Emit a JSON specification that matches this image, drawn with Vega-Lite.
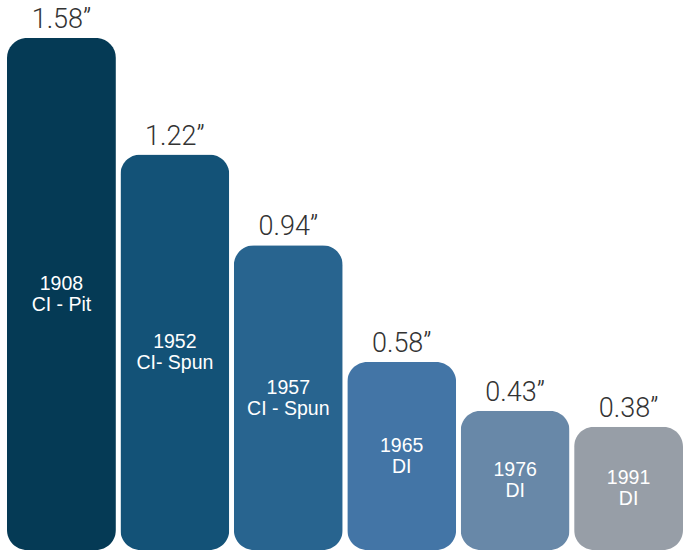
{
  "$schema": "https://vega.github.io/schema/vega-lite/v6.json",
  "width": 676,
  "height": 550,
  "autosize": {"type": "none"},
  "padding": {"left": 7, "top": 0, "right": 1, "bottom": 2},
  "background": "white",
  "config": {"view": {"stroke": null}},
  "data": {
    "values": [
      {"year": "1908", "pipe": "CI - Pit", "value": 1.58, "label": "1.58\u201d"},
      {"year": "1952", "pipe": "CI- Spun", "value": 1.22, "label": "1.22\u201d"},
      {"year": "1957", "pipe": "CI - Spun", "value": 0.94, "label": "0.94\u201d"},
      {"year": "1965", "pipe": "DI", "value": 0.58, "label": "0.58\u201d"},
      {"year": "1976", "pipe": "DI", "value": 0.43, "label": "0.43\u201d"},
      {"year": "1991", "pipe": "DI", "value": 0.38, "label": "0.38\u201d"}
    ]
  },
  "transform": [{"calculate": "datum.value / 2", "as": "mid"}],
  "encoding": {
    "x": {
      "field": "year",
      "type": "nominal",
      "sort": null,
      "axis": null,
      "scale": {"paddingInner": 0.04, "paddingOuter": 0}
    }
  },
  "layer": [
    {
      "mark": {"type": "bar", "cornerRadius": 20},
      "encoding": {
        "y": {"field": "value", "type": "quantitative", "axis": null, "scale": {"domain": [0, 1.697], "nice": false, "zero": true}},
        "color": {
          "field": "year",
          "type": "nominal",
          "legend": null,
          "scale": {
            "domain": ["1908", "1952", "1957", "1965", "1976", "1991"],
            "range": ["#053a55", "#135277", "#28648f", "#4375a6", "#6888a8", "#979ea7"]
          }
        }
      }
    },
    {
      "mark": {"type": "text", "baseline": "alphabetic", "dy": -10, "font": "Roboto", "fontWeight": 300, "fontSize": 27, "color": "#333333"},
      "encoding": {
        "y": {"field": "value", "type": "quantitative"},
        "text": {"field": "label"}
      }
    },
    {
      "mark": {"type": "text", "baseline": "middle", "dy": -10, "font": "Liberation Sans", "fontSize": 19.5, "color": "#ffffff"},
      "encoding": {
        "y": {"field": "mid", "type": "quantitative"},
        "text": {"field": "year"}
      }
    },
    {
      "mark": {"type": "text", "baseline": "middle", "dy": 11, "font": "Liberation Sans", "fontSize": 19.5, "color": "#ffffff"},
      "encoding": {
        "y": {"field": "mid", "type": "quantitative"},
        "text": {"field": "pipe"}
      }
    }
  ]
}
